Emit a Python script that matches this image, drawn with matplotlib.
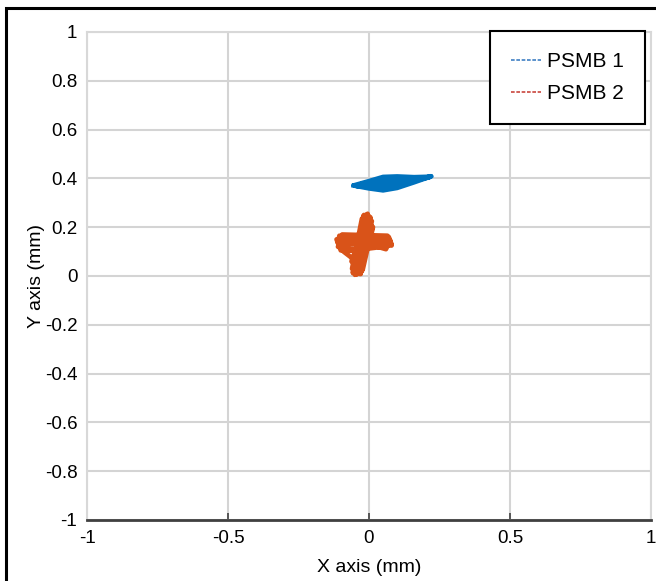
import numpy as np
import matplotlib
matplotlib.use("Agg")
import matplotlib.pyplot as plt
from matplotlib.lines import Line2D
from matplotlib.patches import Rectangle

plt.rcParams["font.family"] = ["Liberation Sans", "DejaVu Sans"]

# orbit traces (mm)
psmb1_x = [-0.055, 0.0, 0.05, 0.10, 0.16, 0.222, 0.16, 0.10, 0.05, 0.0, -0.055,
           -0.03, 0.03, 0.09, 0.15, 0.215, 0.15, 0.09, 0.03, -0.02, -0.05,
           0.0, 0.06, 0.12, 0.18, 0.22, 0.17, 0.11, 0.06, 0.0, -0.045,
           0.02, 0.08, 0.14, 0.20]
psmb1_y = [0.370, 0.358, 0.350, 0.360, 0.383, 0.408, 0.406, 0.409, 0.407, 0.390, 0.372,
           0.366, 0.362, 0.370, 0.388, 0.404, 0.398, 0.398, 0.394, 0.380, 0.370,
           0.372, 0.380, 0.390, 0.398, 0.410, 0.392, 0.380, 0.368, 0.368, 0.368,
           0.382, 0.396, 0.402, 0.404]

psmb2_x = [-0.040, -0.010, 0.000, -0.025, -0.050, -0.020, -0.005, -0.035, -0.060,
           -0.025, 0.010, -0.030, -0.056, -0.018, 0.005, -0.044, -0.052, -0.012,
           0.014, 0.008, -0.045,
           -0.110, 0.070, 0.080, -0.100, -0.115, 0.075, 0.060, -0.105, -0.110,
           0.080, 0.070, -0.030, -0.015, -0.040, -0.055, -0.025, -0.008, -0.030,
           -0.045, -0.090, 0.050, 0.065, -0.095, -0.080, 0.040, -0.010, -0.020,
           -0.045, -0.035, -0.012, 0.005, -0.028, -0.058, -0.048, -0.015, 0.012,
           -0.022, -0.062, -0.040]
psmb2_y = [0.010, 0.250, 0.245, 0.020, 0.005, 0.240, 0.255, 0.015, 0.030,
           0.235, 0.225, 0.010, 0.012, 0.250, 0.240, 0.006, 0.020, 0.232,
           0.200, 0.170, 0.100,
           0.120, 0.160, 0.130, 0.105, 0.150, 0.145, 0.110, 0.165, 0.135,
           0.125, 0.155, 0.140, 0.230, 0.030, 0.020, 0.220, 0.210, 0.008,
           0.060, 0.100, 0.120, 0.165, 0.170, 0.130, 0.150, 0.180, 0.245,
           0.040, 0.012, 0.200, 0.235, 0.050, 0.015, 0.045, 0.215, 0.200,
           0.028, 0.060, 0.130]

series = ["PSMB 1", "PSMB 2"]
x_ticks = [-1, -0.5, 0, 0.5, 1]
y_ticks = [-1, -0.8, -0.6, -0.4, -0.2, 0, 0.2, 0.4, 0.6, 0.8, 1]

blue = "#0072BD"
orange = "#D95319"

fig = plt.figure(figsize=(6.56, 5.81), dpi=100)
ax = fig.add_axes([87 / 656, 61 / 581, 564 / 656, 488 / 581])

ax.plot(psmb1_x, psmb1_y, color=blue, lw=3, solid_joinstyle="round")
ax.plot(psmb2_x, psmb2_y, color=orange, lw=3.4, solid_joinstyle="round")

ax.set_xlim(-1, 1)
ax.set_ylim(-1, 1)
ax.set_xticks(x_ticks)
ax.set_yticks(y_ticks)
ax.set_xticklabels(["-1", "-0.5", "0", "0.5", "1"])
ax.set_yticklabels(["-1", "-0.8", "-0.6", "-0.4", "-0.2", "0", "0.2", "0.4", "0.6", "0.8", "1"])
ax.grid(True, color="#d4d4d4", lw=1.5)
ax.set_axisbelow(True)
ax.tick_params(axis="both", labelsize=13.5, direction="in", length=5, width=1.2,
               colors="#404040", labelcolor="black")
ax.tick_params(axis="x", pad=7)
ax.tick_params(axis="y", pad=7, color="#d4d4d4")
for s in ["left", "right", "top"]:
    ax.spines[s].set_color("#d8d8d8")
    ax.spines[s].set_linewidth(1.5)
ax.spines["bottom"].set_color("#404040")
ax.spines["bottom"].set_linewidth(2)

ax.set_xlabel("X axis (mm)", fontsize=14, labelpad=9)
ax.set_ylabel("Y axis (mm)", fontsize=14, labelpad=0)

handles = [Line2D([], [], color="#3f7fc4", lw=1.2, ls=(0, (2.2, 1))),
           Line2D([], [], color="#c9463d", lw=1.2, ls=(0, (2.2, 1)))]
leg = ax.legend(handles, series, loc="upper right",
                bbox_to_anchor=(645 / 656, 1 - 31 / 581), bbox_transform=fig.transFigure,
                borderaxespad=0, fontsize=15, fancybox=False, framealpha=1,
                edgecolor="black", handlelength=1.45, handletextpad=0.3,
                labelspacing=0.65, borderpad=1.0)
leg.get_frame().set_linewidth(1.5)

# outer black frame
fig.patches.append(Rectangle((6 / 656, -0.1), 1.2, 1 - 8 / 581 + 0.1,
                             transform=fig.transFigure, fill=False,
                             edgecolor="black", lw=2.2))

fig.savefig("out.png", dpi=100)
